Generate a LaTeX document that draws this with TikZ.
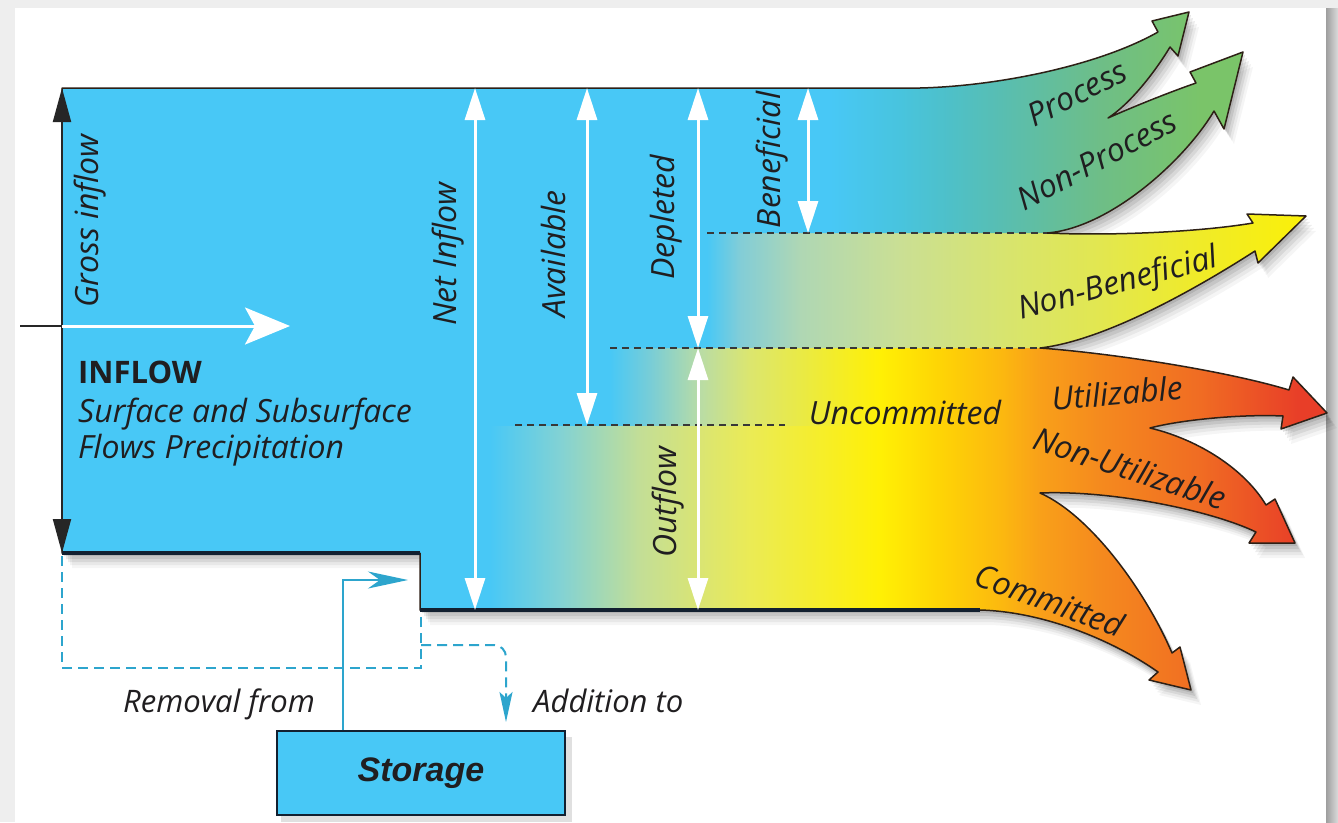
\documentclass[tikz,border=0pt]{standalone}
\usepackage{fontspec}
\setmainfont{Open Sans}
\newfontfamily\storagefont{Liberation Sans}
\usetikzlibrary{arrows.meta}

% basic colours
\definecolor{flowblue}{RGB}{72,200,246}
\definecolor{inkdark}{RGB}{32,30,32}
\definecolor{edgedark}{RGB}{45,32,22}
\definecolor{floorline}{RGB}{18,32,48}
\definecolor{pipeblue}{RGB}{45,165,205}
\definecolor{pagegray}{RGB}{238,238,238}
% colours of the bottom band (outflow)
\definecolor{b4a}{RGB}{130,210,212}
\definecolor{b4b}{RGB}{195,222,150}
\definecolor{b4c}{RGB}{218,229,115}
\definecolor{b4d}{RGB}{235,235,85}
\definecolor{yel}{RGB}{255,240,5}
\definecolor{b4e}{RGB}{254,212,5}
\definecolor{b4f}{RGB}{252,185,15}
\definecolor{b4g}{RGB}{249,160,25}
\definecolor{b4h}{RGB}{245,138,30}
\definecolor{b4i}{RGB}{240,108,35}
\definecolor{redtip}{RGB}{232,62,40}
% uncommitted band
\definecolor{b3a}{RGB}{120,205,215}
\definecolor{b3b}{RGB}{185,220,165}
\definecolor{b3c}{RGB}{220,230,110}
% non-beneficial band
\definecolor{b2a}{RGB}{130,205,215}
\definecolor{b2b}{RGB}{175,215,180}
\definecolor{b2c}{RGB}{202,223,148}
\definecolor{b2d}{RGB}{215,228,112}
\definecolor{b2e}{RGB}{226,231,80}
\definecolor{b2f}{RGB}{240,235,40}
\definecolor{b2g}{RGB}{250,240,10}
% beneficial band
\definecolor{b1a}{RGB}{72,196,222}
\definecolor{b1b}{RGB}{78,192,200}
\definecolor{b1c}{RGB}{88,190,178}
\definecolor{b1d}{RGB}{110,190,135}
\definecolor{b1e}{RGB}{122,196,105}

% horizontal shadings: the band rectangles span x = 0..1340,
% which maps to 25bp..75bp of each shading
\pgfdeclarehorizontalshading{bandfour}{100bp}{color(0bp)=(flowblue); color(43.28bp)=(flowblue); color(45.90bp)=(b4a); color(48.88bp)=(b4b); color(51.12bp)=(b4c); color(52.99bp)=(b4d); color(57.84bp)=(yel); color(60.08bp)=(b4e); color(62.31bp)=(b4f); color(63.81bp)=(b4g); color(66.04bp)=(b4h); color(69.78bp)=(b4i); color(73.51bp)=(redtip); color(100bp)=(redtip)}
\pgfdeclarehorizontalshading{bandthree}{100bp}{color(0bp)=(flowblue); color(47.76bp)=(flowblue); color(49.25bp)=(b3a); color(51.12bp)=(b3b); color(52.99bp)=(b3c); color(57.84bp)=(yel); color(60.08bp)=(b4e); color(62.31bp)=(b4f); color(63.81bp)=(b4g); color(66.04bp)=(b4h); color(69.78bp)=(b4i); color(73.51bp)=(redtip); color(100bp)=(redtip)}
\pgfdeclarehorizontalshading{bandtwo}{100bp}{color(0bp)=(flowblue); color(51.38bp)=(flowblue); color(52.61bp)=(b2a); color(54.85bp)=(b2b); color(58.58bp)=(b2c); color(62.31bp)=(b2d); color(66.04bp)=(b2e); color(69.78bp)=(b2f); color(73.51bp)=(b2g); color(100bp)=(b2g)}
\pgfdeclarehorizontalshading{bandone}{100bp}{color(0bp)=(flowblue); color(55.97bp)=(flowblue); color(58.58bp)=(b1a); color(60.45bp)=(b1b); color(62.31bp)=(b1c); color(66.04bp)=(b1d); color(69.78bp)=(b1e); color(100bp)=(b1e)}

% outline of the water body with its seven outflow arrows
\def\flowoutline{(62,88) -- (920,88)
  .. controls (1000,86) and (1100,65) .. (1158,32)
  -- (1152,21) -- (1189,12) -- (1178,56) -- (1170,47)
  .. controls (1155,72) and (1130,104) .. (1108,118)
  .. controls (1135,106) and (1170,92) .. (1196,83)
  -- (1190,72) -- (1243,52) -- (1224,129) -- (1214,111)
  .. controls (1185,160) and (1110,228) .. (1047,233)
  .. controls (1110,236) and (1200,232) .. (1253,223)
  -- (1247,214) -- (1306,216) -- (1258,263) -- (1255,251)
  .. controls (1210,280) and (1110,340) .. (1040,348)
  .. controls (1120,354) and (1230,372) .. (1289,390)
  -- (1293,377) -- (1327,413) -- (1281,429) -- (1283,416)
  .. controls (1240,414) and (1180,420) .. (1150,428)
  .. controls (1200,440) and (1245,470) .. (1266,505)
  -- (1275,499) -- (1295,543) -- (1249,543) -- (1256,532)
  .. controls (1210,510) and (1110,490) .. (1040,493)
  .. controls (1090,515) and (1145,590) .. (1172,653)
  -- (1180,647) -- (1191,690) -- (1149,680) -- (1158,672)
  .. controls (1120,645) and (1050,612) .. (980,610)
  -- (420,610) -- (420,553) -- (62,553) -- cycle}

\tikzset{
  lbl/.style={font=\fontsize{32}{38}\selectfont\itshape, text=inkdark, inner sep=0pt},
  smalllbl/.style={font=\fontsize{31}{37}\selectfont\itshape, text=inkdark, inner sep=0pt},
  dimarrow/.style={draw=white, line width=3pt,
    {Triangle[length=32pt,width=20pt]}-{Triangle[length=32pt,width=20pt]}},
  grossarrow/.style={draw=black!85, line width=2pt,
    {Triangle[length=34pt,width=18pt]}-{Triangle[length=34pt,width=18pt]}},
  divider/.style={draw=black!78, line width=1.3pt, dash pattern=on 7pt off 5pt},
  pipe/.style={draw=pipeblue, line width=2pt},
  pipedashed/.style={draw=pipeblue, line width=2pt, dash pattern=on 10pt off 6pt},
}

\begin{document}
\begin{tikzpicture}[x=1pt,y=-1pt]
\useasboundingbox (0,0) rectangle (1338,822);

% page and panel
\fill[pagegray] (0,0) rectangle (1338,822);
\fill[white] (15,8) rectangle (1326,822);
\shade[left color=black!38, right color=black!14] (1326,8) rectangle (1338,822);

% soft shadow of the flow body
\foreach \dx/\dy/\op in {2/3/0.10, 4/6/0.08, 6/9/0.07, 8/12/0.05, 10/15/0.04}{
  \begin{scope}[shift={(\dx,\dy)}]
    \fill[black, opacity=\op] \flowoutline;
  \end{scope}
}

% flow body with its colour bands
\fill[flowblue] \flowoutline;
\begin{scope}
  \clip \flowoutline;
  \shade[shading=bandfour] (0,0) rectangle (1340,830);
  \shade[shading=bandthree] (0,0) rectangle (1340,425);
  \shade[shading=bandtwo] (0,0) -- (1340,0) -- (1340,320) -- (1040,348) -- (0,348) -- cycle;
  \shade[shading=bandone] (0,0) -- (1340,0) -- (1340,180) -- (1230,180) -- (1150,228) -- (1047,233) -- (0,233) -- cycle;
\end{scope}
\draw[edgedark, line width=1.5pt, line join=round] \flowoutline;
\draw[floorline, line width=4pt] (62,553) -- (420,553);
\draw[floorline, line width=4pt] (420,610) -- (980,610);

% band dividers
\coordinate (divAa) at (707,233);
\coordinate (divAb) at (1047,233);
\coordinate (divBa) at (610,348);
\coordinate (divBb) at (1040,348);
\coordinate (divCa) at (515,425);
\coordinate (divCb) at (785,425);
\draw[divider] (divAa) -- (divAb);
\draw[divider] (divBa) -- (divBb);
\draw[divider] (divCa) -- (divCb);

% gross inflow
\coordinate (grossTop) at (62,88);
\coordinate (grossBot) at (62,553);
\draw[grossarrow] (grossTop) -- (grossBot);
\coordinate (tickL) at (20,326);
\coordinate (inL) at (62,326);
\coordinate (inR) at (290,326);
\draw[black!85, line width=2pt] (tickL) -- (inL);
\draw[white, line width=3pt, -{Stealth[length=45pt,width=37pt,inset=10pt]}] (inL) -- (inR);

% dimension arrows
\coordinate (netTop) at (475,88);   \coordinate (netBot) at (475,610);
\coordinate (avTop) at (587,88);    \coordinate (avBot) at (587,425);
\coordinate (depTop) at (698,88);   \coordinate (depBot) at (698,348);
\coordinate (benTop) at (808,88);   \coordinate (benBot) at (808,233);
\coordinate (outTop) at (698,348);  \coordinate (outBot) at (698,610);
\draw[dimarrow] (netTop) -- (netBot);
\draw[dimarrow] (avTop) -- (avBot);
\draw[dimarrow] (depTop) -- (depBot);
\draw[dimarrow] (benTop) -- (benBot);
\draw[dimarrow] (outTop) -- (outBot);

% labels
\node[lbl, rotate=90] (grossLbl) at (90,221) {Gross inflow};
\node[font=\fontsize{31}{37}\selectfont\bfseries, text=inkdark, anchor=base west, inner sep=0pt] (inflowLbl) at (78,383) {INFLOW};
\node[lbl, anchor=base west] (srcA) at (78,422) {Surface and Subsurface};
\node[lbl, anchor=base west] (srcB) at (78,458) {Flows Precipitation};
\node[lbl, rotate=90] (netLbl) at (448,254) {Net Inflow};
\node[lbl, rotate=90] (avLbl) at (553,254) {Available};
\node[lbl, rotate=90] (depLbl) at (666,217) {Depleted};
\node[lbl, rotate=90] (benLbl) at (772,160) {Beneficial};
\node[lbl, rotate=90] (outLbl) at (668,502) {Outflow};
\node[lbl] (uncLbl) at (905,412) {Uncommitted};
\node[lbl, rotate=27] (procLbl) at (1077,93) {Process};
\node[lbl, rotate=28] (nprocLbl) at (1097,160) {Non-Process};
\node[lbl, rotate=15] (nbenLbl) at (1118,285) {Non-Beneficial};
\node[lbl, rotate=5] (utilLbl) at (1117,393) {Utilizable};
\node[lbl, rotate=-18] (nutilLbl) at (1130,468) {Non-Utilizable};
\node[lbl, rotate=-20] (commLbl) at (1050,600) {Committed};

% storage exchange
\fill[black, opacity=0.12] (281,737) rectangle (572,822);
\node[draw=floorline, line width=2pt, fill=flowblue, minimum width=288pt, minimum height=84pt,
  inner sep=0pt, font=\storagefont\bfseries\itshape\fontsize{34}{40}\selectfont, text=inkdark]
  (storage) at (421,773) {Storage};
\coordinate (rmBase) at (343,0);
\coordinate (rmTip) at (408,580);
\draw[pipe, -{Stealth[length=40pt,width=17pt,inset=12pt]}] (rmBase |- storage.north) |- (rmTip);
\coordinate (loopA) at (62,556);
\coordinate (loopB) at (421,668);
\coordinate (loopC) at (421,612);
\draw[pipedashed] (loopA) |- (loopB) -- (loopC);
\coordinate (addStart) at (421,645);
\coordinate (addTip) at (506,722);
\draw[pipedashed, rounded corners=12pt, -{Stealth[length=30pt,width=13pt,inset=6pt]}] (addStart) -| (addTip);
\node[smalllbl, anchor=base west] (rmLbl) at (123,712) {Removal from};
\node[smalllbl, anchor=base west] (addLbl) at (533,712) {Addition to};
\end{tikzpicture}
\end{document}
